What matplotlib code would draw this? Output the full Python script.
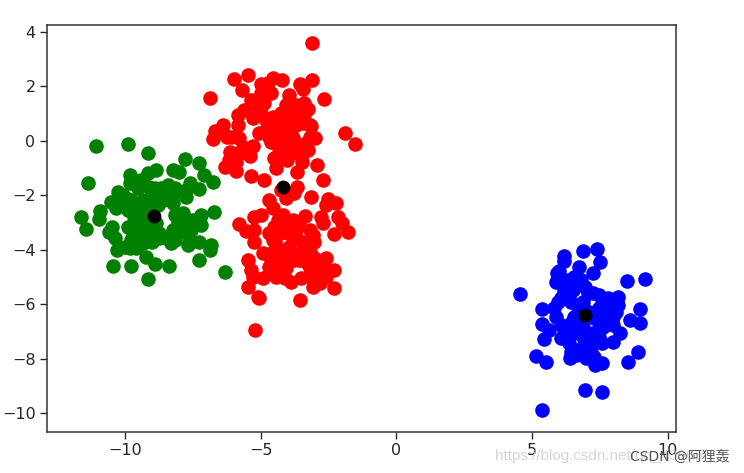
import matplotlib
matplotlib.use('Agg')
import matplotlib.pyplot as plt

# values, cluster by cluster
green_x = [-11.08, -9.90, -9.14, -7.77, -7.28, -11.35, -11.62, -11.43, -10.91, -10.96, -10.47, -10.57, -10.38, -10.30,
           -9.83, -10.45, -9.77, -9.24, -8.91, -8.38, -9.14, -7.28, -6.31, -6.82, -6.86, -7.28, -7.68, -8.30, -9.00,
           -7.19, -7.19, -6.72, -7.87, -7.50, -8.05, -7.80, -8.23, -9.83, -9.83, -9.15, -8.87, -8.23, -8.01, -7.07,
           -6.74, -7.62, -7.28, -8.42, -8.91, -9.52, -10.20, -10.51, -10.08, -10.32, -8.48, -8.23, -7.74, -9.34,
           -9.65, -9.89, -9.28, -9.46, -9.03, -8.73, -8.17, -9.22, -8.79, -9.77, -8.91, -9.34, -10.08, -9.52,
           -9.77, -9.10, -9.40, -8.11, -7.74, -8.60, -9.03, -9.52, -9.71, -9.34, -10.01, -9.58, -8.73, -8.48,
           -8.05, -7.62, -8.17, -7.80, -7.56, -9.89, -10.26, -9.95, -8.91, -9.22, -8.85, -8.66, -8.17]
green_y = [-0.18, -0.11, -0.45, -0.67, -0.80, -1.56, -2.81, -3.22, -2.56, -2.88, -3.15, -3.34, -3.58, -4.01,
           -3.95, -4.60, -4.60, -4.25, -4.52, -4.60, -5.09, -4.38, -4.82, -3.83, -4.01, -3.70, -3.83, -3.76, -3.70,
           -2.72, -3.09, -2.60, -2.66, -2.91, -3.03, -3.34, -3.27, -1.25, -1.56, -1.19, -1.07, -1.07, -1.13, -1.25,
           -1.50, -1.56, -1.78, -1.62, -1.74, -1.74, -2.05, -2.23, -2.29, -2.48, -1.99, -2.29, -2.05, -2.17,
           -2.78, -3.15, -2.78, -3.27, -3.27, -3.40, -3.64, -2.42, -2.36, -3.64, -2.11, -3.52, -1.99, -2.42,
           -2.17, -1.68, -1.43, -1.86, -1.80, -2.17, -2.17, -2.91, -3.46, -3.76, -3.89, -3.95, -3.58, -3.58,
           -3.40, -3.64, -2.72, -3.03, -3.27, -2.54, -1.86, -2.11, -3.52, -3.15, -3.03, -1.74, -1.74]

red_x = [-3.12, -5.97, -5.47, -6.86, -5.68, -4.98, -4.55, -4.21, -4.74, -3.55, -3.12, -3.45, -2.65, -4.62, -3.97,
         -5.35, -4.86, -3.39, -3.26, -4.06, -5.84, -5.60, -5.29, -5.84, -6.40, -6.67, -6.74, -6.25, -5.78, -5.07,
         -5.29, -5.66, -6.13, -5.41, -6.18, -6.33, -5.90, -5.35, -4.86, -4.43, -4.49, -4.31, -4.04, -3.47, -3.67,
         -2.92, -2.71, -3.26, -2.98, -1.89, -1.54, -3.20, -3.70, -4.80, -4.55, -4.43, -4.06, -3.70, -4.62, -4.19,
         -3.82, -3.45, -4.19, -3.88, -3.45, -3.94, -5.05, -4.37, -3.67, -4.80,
         -4.25, -3.94, -3.39, -3.14, -4.74, -4.49, -4.00, -4.68, -4.06, -3.82, -3.33, -3.20, -4.31, -3.94, -3.45,
         -5.78, -5.90, -6.09, -6.40, -4.98, -5.17, -3.69, -5.00,
         -3.67, -4.06, -3.76, -4.25, -3.14, -2.53, -2.59, -2.22, -4.70, -4.55, -5.23, -4.98, -5.80, -5.54, -5.23,
         -5.23, -4.19, -4.37, -3.35, -2.77, -2.71, -2.16, -2.00, -1.79, -2.31, -4.68, -4.25, -3.69, -3.20, -3.02,
         -3.45, -3.94, -4.43, -4.92, -5.48, -4.61, -4.19, -3.20, -2.59, -2.90, -3.76, -2.28, -5.35, -5.29, -4.92,
         -4.43, -4.06, -3.88, -3.51, -3.08, -2.83, -3.20, -2.83, -5.48, -5.10, -5.07, -3.55, -2.31, -5.20, -4.68,
         -3.33, -4.49, -4.06, -3.57, -3.08, -3.69, -4.55, -3.26, -4.55, -4.00, -3.51, -3.08, -3.57, -4.25, -4.55,
         -4.12, -3.20, -2.65, -2.59, -3.08, -3.81, -3.88]
red_y = [3.59, 2.28, 2.43, 1.59, 1.87, 2.10, 2.30, 2.22, 2.12, 2.10, 2.22, 1.90, 1.53, 1.75, 1.69,
         1.51, 1.38, 1.38, 1.16, 1.32, 0.95, 1.14, 0.83, 0.59, 0.59, 0.38, 0.06, 0.16, 0.10, 0.28,
         -0.19, -0.21, -0.39, -0.55, -0.70, -0.95, -1.09, -1.29, -1.44, -1.01, -0.64, -0.46, -0.72, -0.76, -1.13,
         -0.88, -1.44, -0.33, 0.10, 0.30, -0.12, 0.59, 0.59, 0.40, 0.89, 0.40, 0.77, 0.96, -0.03, -0.09,
         -0.15, -0.15, 0.40, 0.22, 0.65, 1.45, 1.20, 0.28, -0.46, 0.77,
         1.02, 0.83, 0.96, 0.53, 0.59, 0.65, 0.47, 0.16, 0.03, 0.10, -0.09, 0.16, -0.27, -0.39, -0.45,
         -0.45, -0.76, 0.16, 0.28, 1.75, 1.32, 1.32, 1.02,
         -1.68, -2.11, -1.92, -1.80, -2.05, -2.15, -2.35, -2.27, -2.17, -2.48, -2.78, -2.72, -3.07, -3.33, -3.27,
         -3.70, -2.72, -2.91, -2.76, -2.81, -3.03, -2.78, -3.00, -3.36, -3.42, -3.40, -3.40, -3.27, -3.27, -3.70,
         -3.70, -3.89, -3.82, -4.13, -4.38, -4.38, -4.19, -4.07, -4.32, -4.38, -4.38, -4.74, -4.74, -5.00, -5.05,
         -4.99, -4.68, -5.17, -5.05, -5.36, -5.23, -4.93, -4.87, -5.36, -5.73, -5.79, -5.85, -5.42, -6.95, -4.62,
         -4.44, -3.15, -3.03, -3.03, -3.46, -3.58, -3.64, -3.76, -4.07, -4.19, -4.07, -4.25, -4.38, -4.62, -4.81,
         -5.05, -4.68, -4.68, -4.99, -5.11, -2.91, -3.46]

blue_x = [7.38, 6.89, 7.51, 6.19, 6.19, 6.74, 7.26, 5.91, 5.88, 6.31, 6.80, 8.49, 9.17, 4.56, 5.37, 5.35, 5.64, 5.45,
          8.98, 8.62, 8.98, 8.22, 7.97, 7.58, 8.89, 8.55, 5.14, 5.51, 6.40, 7.58, 7.33, 6.96, 7.58, 5.37, 8.15, 7.79,
          8.15, 7.97, 7.60, 7.72, 8.09, 7.23, 6.93, 6.50, 6.19, 5.94, 6.43, 5.88, 6.07, 6.43, 6.86, 7.48, 7.29, 6.86,
          6.50, 6.07, 6.37, 6.86, 7.23, 6.68, 7.17, 6.99, 6.62, 7.85,
          6.07, 5.82, 6.68, 7.11, 6.56, 6.25, 6.62, 7.48, 7.79, 7.97, 7.60, 7.23, 6.86, 6.43, 7.29, 7.48, 6.00, 6.13,
          6.56, 6.43, 7.05, 7.48]
blue_y = [-3.97, -4.04, -4.46, -4.23, -4.40, -4.65, -4.87, -4.84, -5.17, -5.11, -5.11, -5.15, -5.07, -5.63, -6.18,
          -6.73, -6.95, -7.29, -6.17, -6.58, -6.68, -7.07, -7.38, -7.44, -7.77, -8.11, -7.91, -8.14, -7.99, -8.18,
          -8.24, -9.16, -9.22, -9.89, -5.72, -5.79, -6.03, -6.46, -6.83, -6.34, -6.28, -5.60, -5.36, -5.48, -5.48,
          -5.91, -5.91, -6.46, -6.77, -6.70, -5.91, -6.15, -6.52, -6.83, -7.07, -7.26, -7.44, -7.20, -7.07, -7.69,
          -7.75, -7.99, -7.87, -6.03,
          -5.79, -6.15, -6.09, -6.28, -6.46, -6.95, -6.83, -6.64, -6.58, -6.77, -6.03, -7.38, -7.56, -7.75, -7.93,
          -7.20, -4.80, -5.23, -4.99, -5.30, -5.60, -5.66]

center_x = [-8.93, -4.16, 6.96]
center_y = [-2.75, -1.71, -6.40]

xticks = [-10, -5, 0, 5, 10]
yticks = [-10, -8, -6, -4, -2, 0, 2, 4]

plt.rcParams['font.family'] = ['DejaVu Sans', 'Noto Sans CJK SC']

fig = plt.figure(figsize=(7.44, 4.73), dpi=100)
ax = fig.add_axes([47 / 744, 1 - 432 / 473, 629 / 744, 407 / 473])

ax.scatter(green_x, green_y, c='green', s=90)
ax.scatter(red_x, red_y, c='red', s=90)
ax.scatter(blue_x, blue_y, c='blue', s=90)
ax.scatter(center_x, center_y, c='black', s=80)

ax.set_xlim(-12.87, 10.3)
ax.set_ylim(-10.70, 4.26)
ax.set_xticks(xticks)
ax.set_yticks(yticks)
ax.tick_params(labelsize=11.5, length=4.7, width=1.0, colors='#262626')
for s in ax.spines.values():
    s.set_linewidth(1.1)
    s.set_color('#333333')

# the site's watermark over the lower right corner
fig.text(495 / 744, 1 - 456 / 473, 'https://blog.csdn.net/qq_43965', fontsize=11, family='Liberation Sans',
         color='#c4c4c4', alpha=0.7, va='center')
fig.text(630 / 744, 1 - 457 / 473, 'CSDN @阿狸轰', fontsize=10, color='#555555', va='center')

fig.savefig('out.png', dpi=100)
